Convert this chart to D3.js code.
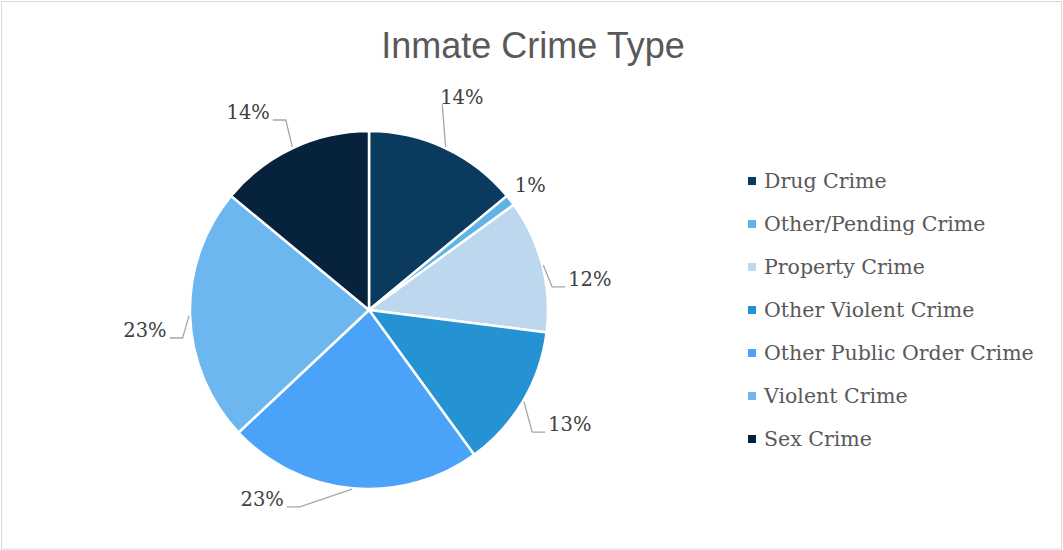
<!DOCTYPE html>
<html lang="en">
<head>
    <meta charset="UTF-8">
    <title>Inmate Crime Type</title>
    <style>
        body {
            margin: 0;
            background: #FFFFFF;
        }
    </style>
</head>
<body>
<div id="chart"></div>
<script src="https://d3js.org/d3.v7.min.js"></script>
<script>
    // data
    const categories = ["Drug Crime", "Other/Pending Crime", "Property Crime", "Other Violent Crime",
        "Other Public Order Crime", "Violent Crime", "Sex Crime"];
    const shares = [14, 1, 12, 13, 23, 23, 14];
    const colors = ["#0b3a5f", "#5fb3e5", "#bdd7ee", "#2592d3", "#4aa3f8", "#6cb7ef", "#06223c"];

    // label placement (excel "best fit" moves some labels off the mid angle)
    const labelRadius = [232, 204, 223, 231, 217, 225, 232];
    const labelNudge = [-1.6, 0, 6.4, -1, 24.1, -3.3, -6.2];   // degrees
    const leaderStyle = ["straight", "none", "elbow", "elbow", "elbow", "elbow", "elbow"];

    const width = 1063, height = 550;
    const cx = 369, cy = 310, radius = 179;

    const svg = d3.select("#chart")
        .append("svg")
        .attr("width", width)
        .attr("height", height);

    // chart frame
    svg.append("rect")
        .attr("x", 1.5).attr("y", 1.5)
        .attr("width", width - 3).attr("height", height - 2.5)
        .attr("fill", "#fff")
        .attr("stroke", "#d9d9d9")
        .attr("stroke-width", 1);

    svg.append("text")
        .attr("x", 533)
        .attr("y", 58)
        .attr("text-anchor", "middle")
        .style("font-family", "'Liberation Sans', Arial, sans-serif")
        .style("font-size", "36px")
        .style("fill", "#595959")
        .text("Inmate Crime Type");

    const data = categories.map((c, i) => ({name: c, value: shares[i], color: colors[i], idx: i}));

    const pie = d3.pie()
        .sort(null)
        .value(d => d.value);
    const arcs = pie(data);

    const arc = d3.arc()
        .innerRadius(0)
        .outerRadius(radius);

    const g = svg.append("g")
        .attr("transform", `translate(${cx},${cy})`);

    g.selectAll("path.slice")
        .data(arcs)
        .join("path")
        .attr("class", "slice")
        .attr("d", arc)
        .attr("fill", d => d.data.color)
        .attr("stroke", "#fff")
        .attr("stroke-width", 2.5)
        .attr("stroke-linejoin", "round");

    // point at angle a (radians, clockwise from top), distance r
    const polar = (a, r) => [r * Math.sin(a), -r * Math.cos(a)];

    const labelFont = "'DejaVu Serif', Georgia, serif";
    const labelSize = 19.5;

    arcs.forEach(function (d) {
        const i = d.data.idx;
        const mid = (d.startAngle + d.endAngle) / 2;
        const la = mid + labelNudge[i] * Math.PI / 180;
        const [lx, ly] = polar(la, labelRadius[i]);
        const txt = d3.format(".0%")(d.data.value / 100);

        const t = g.append("text")
            .attr("x", lx)
            .attr("y", ly)
            .attr("dy", "0.35em")
            .attr("text-anchor", "middle")
            .style("font-family", labelFont)
            .style("font-size", labelSize + "px")
            .style("fill", "#404040")
            .text(txt);

        const w = t.node().getComputedTextLength();
        const start = polar(mid, radius + 1);
        let pts = null;
        if (leaderStyle[i] === "straight") {
            pts = [start, [lx - w / 2 + 2, ly + 7]];
        } else if (leaderStyle[i] === "elbow") {
            const right = lx > start[0];
            const side = right ? -1 : 1;
            const hx = lx + side * (w / 2 + 3);
            const ex = lx + side * (w / 2 + 16);
            pts = [start, [ex, ly + 8], [hx, ly + 8]];
        }
        if (pts) {
            g.append("path")
                .attr("d", d3.line()(pts))
                .attr("fill", "none")
                .attr("stroke", "#a6a6a6")
                .attr("stroke-width", 1.3);
        }
    });

    // legend
    const legend = svg.append("g")
        .attr("transform", "translate(748,181)");

    const rows = legend.selectAll("g.row")
        .data(data)
        .join("g")
        .attr("class", "row")
        .attr("transform", (d, i) => `translate(0,${i * 43})`);

    rows.append("rect")
        .attr("x", 0)
        .attr("y", -4)
        .attr("width", 8)
        .attr("height", 8)
        .attr("fill", d => d.color);

    rows.append("text")
        .attr("x", 16)
        .attr("y", 0)
        .attr("dy", "0.35em")
        .style("font-family", labelFont)
        .style("font-size", "20.5px")
        .style("fill", "#595959")
        .text(d => d.name);
</script>
</body>
</html>
